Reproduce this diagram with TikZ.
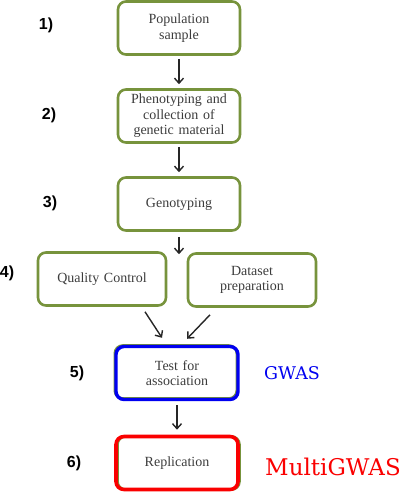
\documentclass[tikz,border=0pt]{standalone}
\usepackage{fontspec}
\setmainfont{Liberation Serif}
\newfontfamily\stepfont{Liberation Sans}
\newfontfamily\tagfont{DejaVu Serif}
\usetikzlibrary{arrows.meta}

\definecolor{boxgreen}{RGB}{119,147,60}
\definecolor{textgray}{RGB}{60,60,60}
\definecolor{gwasblue}{RGB}{0,0,240}
\definecolor{multired}{RGB}{250,0,0}

\begin{document}
\begin{tikzpicture}[x=1pt,y=-1pt]
    \tikzstyle{stage} = [shape=rectangle, rounded corners=8pt, draw=boxgreen, line width=2.6pt,
                         minimum width=122pt, minimum height=53pt, text width=114pt, align=center,
                         text=textgray, font=\fontsize{14}{15.5}\selectfont]
    \tikzstyle{gwasbox} = [stage, draw=gwasblue, line width=3.4pt,
                           preaction={draw=boxgreen, line width=2.6pt, transform canvas={shift={(-1.2pt,1pt)}}}]
    \tikzstyle{multibox} = [stage, draw=multired, line width=3.6pt,
                            preaction={draw=boxgreen, line width=2.6pt, transform canvas={shift={(1.5pt,0pt)}}}]
    \tikzstyle{steplabel} = [font=\stepfont\bfseries\fontsize{16}{18}\selectfont, text=black]
    \tikzstyle{flow} = [-{Straight Barb[length=5pt,width=9pt]}, line width=1.4pt, black!85]
    \useasboundingbox (0,0) rectangle (401,498);

    \node (pop)   [stage]    at (179,28)  {Population\\sample};
    \node (pheno) [stage]    at (179,116) {Phenotyping and\\collection of\\genetic material};
    \node (geno)  [stage]    at (179,204) {Genotyping};
    \node (qc)    [stage, minimum width=128pt] at (102,279) {Quality Control};
    \node (data)  [stage, minimum width=128pt] at (252,280) {Dataset\\preparation};
    \node (test)  [gwasbox]  at (177,373) {Test for\\association};
    \node (repl)  [multibox] at (177,463) {Replication};

    % step numbers
    \node (s1) [steplabel] at (46,25)  {1)};
    \node (s2) [steplabel] at (49,115) {2)};
    \node (s3) [steplabel] at (50,203) {3)};
    \node (s4) [steplabel] at (7,273)  {4)};
    \node (s5) [steplabel] at (77,373) {5)};
    \node (s6) [steplabel] at (74,463) {6)};

    \node (gwas)  [text=gwasblue, font=\tagfont\fontsize{17.5}{20}\selectfont] at (292,373) {GWAS};
    \node (multi) [text=multired, font=\tagfont\fontsize{23}{26}\selectfont] at (333,467) {MultiGWAS};

    \draw [flow, shorten <=3pt, shorten >=4pt] (pop) -- (pheno);
    \draw [flow, shorten <=3pt, shorten >=4pt] (pheno) -- (geno);
    \draw [flow, shorten <=5pt, shorten >=0pt] (geno.south) -- ([yshift=-3pt]geno.south |- qc.north);
    \draw [flow] ([xshift=43pt,yshift=-5pt]qc.south) -- ([xshift=-15pt,yshift=7pt]test.north);
    \draw [flow] ([xshift=-42pt,yshift=-7pt]data.south) -- ([xshift=10pt,yshift=6pt]test.north);
    \draw [flow, shorten <=4pt, shorten >=5pt] (test) -- (repl);
\end{tikzpicture}
\end{document}
